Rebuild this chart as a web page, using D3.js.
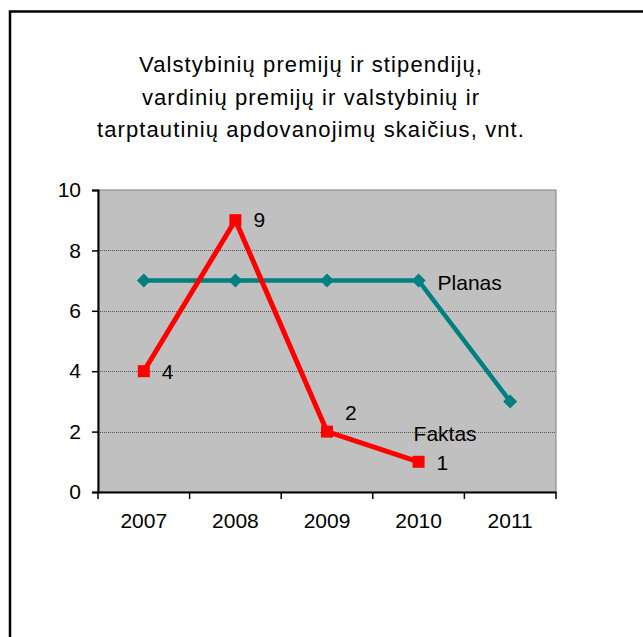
<!DOCTYPE html>
<html>
<head>
<meta charset="utf-8">
<script src="https://cdn.jsdelivr.net/npm/d3@7"></script>
<style>
  html, body { margin: 0; padding: 0; background: #fff; }
  svg { display: block; }
  text { font-family: "Liberation Sans", Arial, sans-serif; fill: #000; }
</style>
</head>
<body>
<svg id="chart" width="643" height="637"></svg>
<script>
const years = ["2007", "2008", "2009", "2010", "2011"];
const planas = [7, 7, 7, 7, 3];
const faktas = [4, 9, 2, 1, null];
const yTicks = [0, 2, 4, 6, 8, 10];
const titleLines = ["Valstybinių premijų ir stipendijų,", "vardinių premijų ir valstybinių ir", "tarptautinių apdovanojimų skaičius, vnt."];
const faktasLabels = ["4", "9", "2", "1"];

const svg = d3.select("#chart");
const m = { left: 98, right: 556, top: 190, bottom: 492 };
const FS = 21;

// outer frame
svg.append("rect").attr("x", 10).attr("y", 11.5).attr("width", 700).attr("height", 700)
  .attr("fill", "none").attr("stroke", "#000").attr("stroke-width", 2.5);

// title
svg.append("g").selectAll("text").data(titleLines).join("text")
  .attr("x", 311).attr("y", (d, i) => 72 + i * 32.5)
  .attr("text-anchor", "middle").attr("font-size", 22).attr("letter-spacing", 1.1)
  .text(d => d);

const x = d3.scaleBand().domain(years).range([m.left, m.right]);
const y = d3.scaleLinear().domain([0, 10]).range([m.bottom, m.top]);

// plot background
svg.append("rect").attr("x", m.left).attr("y", m.top)
  .attr("width", m.right - m.left).attr("height", m.bottom - m.top)
  .attr("fill", "#C0C0C0").attr("stroke", "#808080").attr("stroke-width", 1);

// gridlines
svg.append("g").selectAll("line").data(yTicks.filter(t => t > 0 && t < 10)).join("line")
  .attr("x1", m.left).attr("x2", m.right)
  .attr("y1", d => Math.round(y(d)) + 0.5).attr("y2", d => Math.round(y(d)) + 0.5)
  .attr("stroke", "#555").attr("stroke-width", 1).attr("stroke-dasharray", "1,1");

// y axis
const yAxis = svg.append("g").attr("transform", `translate(${m.left},0)`)
  .call(d3.axisLeft(y).tickValues(yTicks).tickSize(6).tickPadding(11).tickFormat(d3.format("d")));
yAxis.select(".domain").attr("stroke", "#000").attr("stroke-width", 2);
yAxis.selectAll(".tick line").attr("stroke", "#000").attr("stroke-width", 1.5);
yAxis.selectAll(".tick text").attr("font-size", FS).attr("font-family", "Liberation Sans, Arial, sans-serif").attr("fill", "#000");

// x axis
const xAxis = svg.append("g").attr("transform", `translate(0,${m.bottom})`)
  .call(d3.axisBottom(x).tickSize(0).tickPadding(21));
xAxis.select(".domain").attr("stroke", "#000").attr("stroke-width", 2);
xAxis.selectAll(".tick text").attr("font-size", FS).attr("font-family", "Liberation Sans, Arial, sans-serif").attr("fill", "#000");
// category boundary ticks
const bounds = years.map(d => x(d)).concat([m.right]);
svg.append("g").selectAll("line").data(bounds).join("line")
  .attr("x1", d => d).attr("x2", d => d)
  .attr("y1", m.bottom).attr("y2", m.bottom + 7)
  .attr("stroke", "#000").attr("stroke-width", 1.5);

const cx = d => x(d) + x.bandwidth() / 2;

// Planas line
const planasData = years.map((yr, i) => ({ yr, v: planas[i] }));
svg.append("path").datum(planasData)
  .attr("d", d3.line().x(d => cx(d.yr)).y(d => y(d.v)))
  .attr("fill", "none").attr("stroke", "#008080").attr("stroke-width", 4.5).attr("stroke-linejoin", "round");
svg.append("g").selectAll("path").data(planasData).join("path")
  .attr("transform", d => `translate(${cx(d.yr)},${y(d.v)})`)
  .attr("d", "M0,-7L7,0L0,7L-7,0Z").attr("fill", "#008080");

// Faktas line
const faktasData = years.map((yr, i) => ({ yr, v: faktas[i] })).filter(d => d.v !== null);
svg.append("path").datum(faktasData)
  .attr("d", d3.line().x(d => cx(d.yr)).y(d => y(d.v)))
  .attr("fill", "none").attr("stroke", "#FF0000").attr("stroke-width", 5).attr("stroke-linejoin", "miter");
svg.append("g").selectAll("rect").data(faktasData).join("rect")
  .attr("x", d => cx(d.yr) - 6).attr("y", d => y(d.v) - 6)
  .attr("width", 12).attr("height", 12).attr("fill", "#FF0000");

// value labels
svg.append("g").selectAll("text").data(faktasData).join("text")
  .attr("x", d => cx(d.yr) + 18).attr("y", (d, i) => y(d.v) + 8 + [0, -1, -20, 0][i])
  .attr("font-size", FS).text((d, i) => faktasLabels[i]);

// series labels
svg.append("text").attr("x", cx("2010") + 19).attr("y", y(7) + 9).attr("font-size", FS).text("Planas");
svg.append("text").attr("x", cx("2010") - 5).attr("y", y(2) + 9).attr("font-size", FS).text("Faktas");
</script>
</body>
</html>
